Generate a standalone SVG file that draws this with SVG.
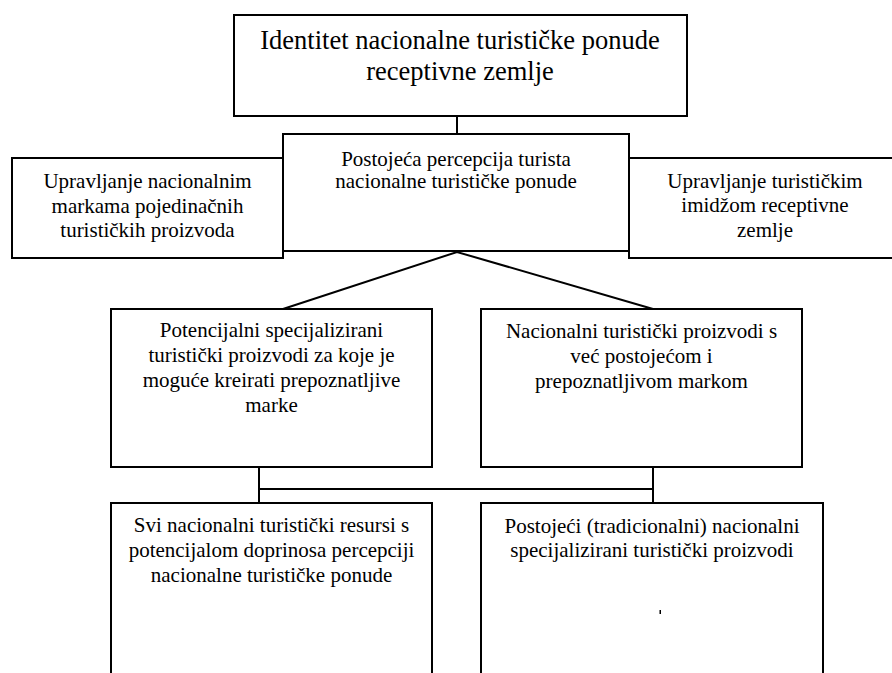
<svg xmlns="http://www.w3.org/2000/svg" width="892" height="673" viewBox="0 0 892 673">
<style>
.box{fill:#fff;stroke:#000;stroke-width:2}
.ln{fill:none;stroke:#000;stroke-width:2}
text{font-family:"Liberation Serif","Times New Roman",serif;fill:#000;text-anchor:middle}
.t{font-size:21px}
.big{font-size:26.5px}
</style>
<rect width="892" height="673" fill="#fff"/>
<g id="connectors">
<line class="ln" x1="457" y1="116" x2="457" y2="134"/>
<polyline class="ln" points="283,309 457,252 653,309"/>
<line class="ln" x1="259" y1="467" x2="259" y2="503"/>
<line class="ln" x1="653" y1="467" x2="653" y2="503"/>
<line class="ln" x1="259" y1="489" x2="653" y2="489"/>
</g>
<g id="n-identitet">
<rect class="box" x="234" y="15" width="453" height="101"/>
<text class="big" x="460" y="49">Identitet nacionalne turističke ponude</text>
<text class="big" x="460" y="80">receptivne zemlje</text>
</g>
<g id="n-marke">
<rect class="box" x="12" y="158" width="271" height="100"/>
<text class="t" x="147.5" y="188">Upravljanje nacionalnim</text>
<text class="t" x="147.5" y="213">markama pojedinačnih</text>
<text class="t" x="147.5" y="237">turističkih proizvoda</text>
</g>
<g id="n-imidz">
<rect class="box" x="629" y="158" width="272" height="100"/>
<text class="t" x="765" y="188">Upravljanje turističkim</text>
<text class="t" x="765" y="212">imidžom receptivne</text>
<text class="t" x="765" y="237">zemlje</text>
</g>
<g id="n-percepcija">
<rect class="box" x="283" y="134" width="346" height="117"/>
<text class="t" x="456" y="166">Postojeća percepcija turista</text>
<text class="t" x="456" y="188">nacionalne turističke ponude</text>
</g>
<g id="n-potencijalni">
<rect class="box" x="111" y="309" width="321" height="158"/>
<text class="t" x="271.5" y="337">Potencijalni specijalizirani</text>
<text class="t" x="271.5" y="362">turistički proizvodi za koje je</text>
<text class="t" x="271.5" y="387">moguće kreirati prepoznatljive</text>
<text class="t" x="271.5" y="412">marke</text>
</g>
<g id="n-nacionalni">
<rect class="box" x="481" y="309" width="321" height="158"/>
<text class="t" x="641.5" y="338">Nacionalni turistički proizvodi s</text>
<text class="t" x="641.5" y="363">već postojećom i</text>
<text class="t" x="641.5" y="388">prepoznatljivom markom</text>
</g>
<g id="n-resursi">
<rect class="box" x="111" y="503" width="321" height="190"/>
<text class="t" x="271.5" y="532">Svi nacionalni turistički resursi s</text>
<text class="t" x="271.5" y="557">potencijalom doprinosa percepciji</text>
<text class="t" x="271.5" y="582">nacionalne turističke ponude</text>
</g>
<g id="n-postojeci">
<rect class="box" x="481" y="503" width="342" height="190"/>
<text class="t" x="652" y="533">Postojeći (tradicionalni) nacionalni</text>
<text class="t" x="652" y="557">specijalizirani turistički proizvodi</text>
<rect x="659.5" y="610" width="1.5" height="4" fill="#000"/>
</g>
</svg>
